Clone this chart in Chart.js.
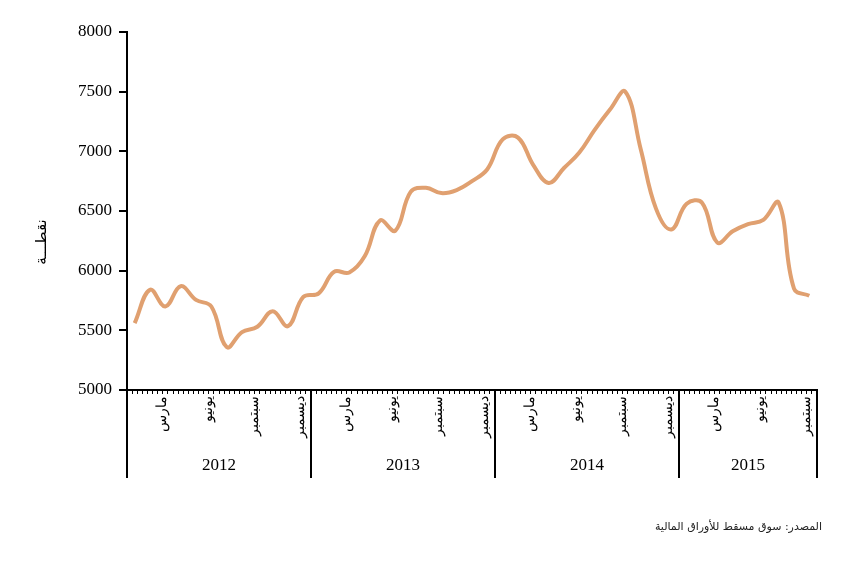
<!DOCTYPE html>
<html>
<head>
<meta charset="utf-8">
<script src="https://cdn.jsdelivr.net/npm/chart.js@4.4.1/dist/chart.umd.min.js"></script>
<style>
  html, body { margin: 0; padding: 0; background: #fff; }
  #wrap { width: 842px; height: 563px; }
</style>
</head>
<body>
<div id="wrap"><canvas id="msm"></canvas></div>
<script>
// سنوات المحور وأسماء الأشهر
const years = ['2012', '2013', '2014', '2015'];
const monthNames = ['يناير', 'فبراير', 'مارس', 'أبريل', 'مايو', 'يونيو', 'يوليو', 'أغسطس', 'سبتمبر', 'أكتوبر', 'نوفمبر', 'ديسمبر'];
const labelMonths = [2, 5, 8, 11]; // مارس، يونيو، سبتمبر، ديسمبر
const yTicks = [5000, 5500, 6000, 6500, 7000, 7500, 8000];

// مؤشر سوق مسقط (نقطة) شهريا من يناير 2012 الى سبتمبر 2015
const index2012 = [5560, 5840, 5700, 5870, 5755, 5700, 5360, 5485, 5530, 5660, 5535, 5780];
const index2013 = [5810, 5990, 5985, 6120, 6420, 6335, 6660, 6695, 6650, 6675, 6750, 6850];
const index2014 = [7100, 7115, 6885, 6735, 6860, 6990, 7180, 7350, 7500, 7020, 6520, 6345];
const index2015 = [6560, 6570, 6235, 6330, 6390, 6425, 6570, 5850, 5790];

const yTitle = 'نقطـــة';
const sourceNote = 'المصدر: سوق مسقط للأوراق المالية';

const values = [...index2012, ...index2013, ...index2014, ...index2015];
// كل شهر = 3 وحدات على المحور الأفقي (علامات صغيرة كل ثلث شهر)
const points = values.map((v, i) => ({ x: 3 * i + 1.5, y: v }));
const xMax = values.length * 3;

const serif = "'Liberation Serif', 'Times New Roman', 'DejaVu Serif', serif";

const extras = {
  id: 'extras',
  afterDraw(chart) {
    const { ctx, chartArea } = chart;
    const x = chart.scales.x;
    ctx.save();
    ctx.strokeStyle = '#000';
    ctx.lineWidth = 2;
    // فواصل السنوات
    for (let k = 0; k <= years.length; k++) {
      const px = Math.round(x.getPixelForValue(Math.min(k * 36, xMax)));
      ctx.beginPath();
      ctx.moveTo(px, chartArea.bottom);
      ctx.lineTo(px, 478);
      ctx.stroke();
    }
    ctx.fillStyle = '#000';
    ctx.font = '17px ' + serif;
    ctx.textAlign = 'center';
    ctx.textBaseline = 'middle';
    years.forEach((yr, k) => {
      const start = k * 36;
      const end = Math.min(start + 36, xMax);
      ctx.fillText(yr, x.getPixelForValue((start + end) / 2), 466);
    });

    // عنوان المحور الرأسي
    ctx.save();
    ctx.translate(42, 242);
    ctx.rotate(-Math.PI / 2);
    ctx.font = "15px 'DejaVu Sans', sans-serif";
    ctx.fillText(yTitle, 0, 0);
    ctx.restore();

    // المصدر
    ctx.font = "11px 'DejaVu Sans', 'Noto Sans', sans-serif";
    ctx.textAlign = 'right';
    ctx.fillStyle = '#222';
    ctx.fillText(sourceNote, 822, 527);
    ctx.restore();
  }
};

new Chart(document.getElementById('msm'), {
  type: 'line',
  data: {
    datasets: [{
      data: points,
      borderColor: '#E0A070',
      borderWidth: 4,
      pointRadius: 0,
      tension: 0.4,
      fill: false
    }]
  },
  options: {
    responsive: true,
    maintainAspectRatio: false,
    animation: false,
    layout: { padding: { left: 0, top: 32, right: 25, bottom: 0 } },
    plugins: {
      legend: { display: false },
      tooltip: { enabled: false }
    },
    scales: {
      x: {
        type: 'linear',
        min: 0,
        max: xMax,
        border: { display: true, color: '#000', width: 2 },
        grid: { display: true, drawOnChartArea: false, color: '#000', lineWidth: 1, tickLength: 4 },
        ticks: {
          stepSize: 1,
          autoSkip: false,
          minRotation: 90,
          maxRotation: 90,
          padding: 2,
          color: '#000',
          font: { family: serif, size: 14 },
          callback: v => {
            const m = Math.floor(v / 3);
            if (v % 3 !== 1 || m >= values.length) return '';
            return labelMonths.includes(m % 12) ? monthNames[m % 12] : '';
          }
        },
        afterFit: s => { s.height = 563 - 390; }
      },
      y: {
        min: 5000,
        max: 8000,
        afterBuildTicks: s => { s.ticks = yTicks.map(v => ({ value: v })); },
        border: { display: true, color: '#000', width: 2 },
        grid: { display: true, drawOnChartArea: false, color: '#000', lineWidth: 2, tickLength: 8 },
        ticks: {
          padding: 7,
          color: '#000',
          font: { family: serif, size: 17 },
          callback: v => String(v)
        },
        afterFit: s => { s.width = 127; }
      }
    }
  },
  plugins: [extras]
});
</script>
</body>
</html>
